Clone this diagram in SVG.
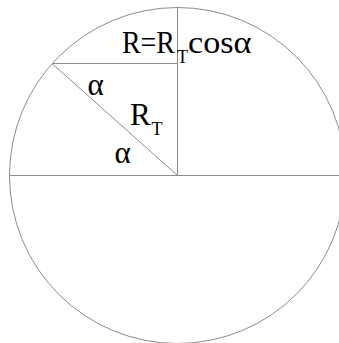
<svg xmlns="http://www.w3.org/2000/svg" width="339" height="343" viewBox="0 0 339 343">
<style>
.ln{fill:none;stroke:#8c8c8c;stroke-width:1}
.t{font-family:"Liberation Serif","Times New Roman",serif;fill:#000}
.big{font-size:31px}
.sub{font-size:18px}
</style>
<rect width="339" height="343" fill="#fff"/>
<g id="circle"><circle class="ln" cx="177.5" cy="175.5" r="168"/></g>
<g id="connectors">
<line class="ln" x1="9.5" y1="175.5" x2="339" y2="175.5"/>
<line class="ln" x1="177.5" y1="7.5" x2="177.5" y2="175.5"/>
<line class="ln" x1="52" y1="63.5" x2="177.5" y2="63.5"/>
<line class="ln" x1="52" y1="63.5" x2="177.5" y2="175.5"/>
</g>
<g id="label-formula">
<text class="t big" x="122" y="53.3" textLength="53" lengthAdjust="spacingAndGlyphs">R=R</text>
<text class="t sub" x="177" y="63.3">T</text>
<text class="t big" x="188" y="53.3" textLength="63.5" lengthAdjust="spacingAndGlyphs">cosα</text>
</g>
<g id="label-RT">
<text class="t big" x="130" y="125">R</text>
<text class="t sub" x="151.5" y="135">T</text>
</g>
<g id="label-alpha1"><text class="t big" x="87.5" y="95">α</text></g>
<g id="label-alpha2"><text class="t big" x="114.5" y="162.7">α</text></g>
</svg>
